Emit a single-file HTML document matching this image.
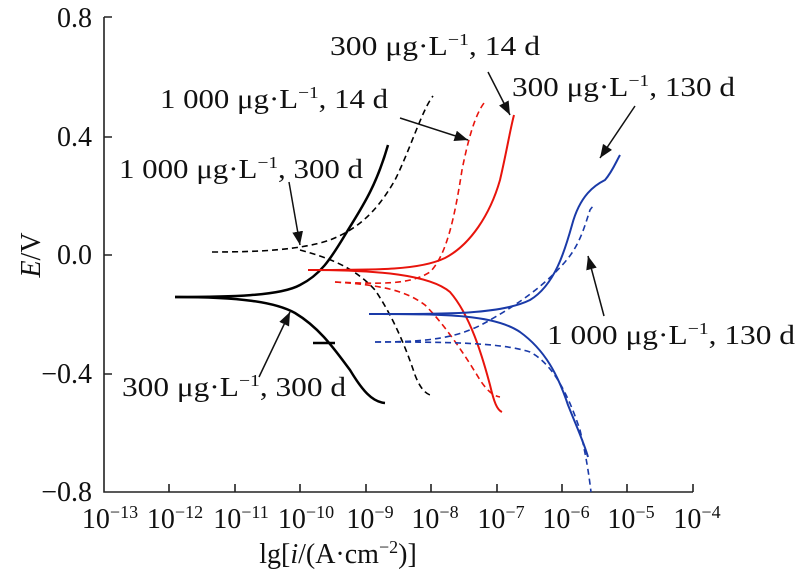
<!DOCTYPE html><html><head><style>body{margin:0;background:#fff}svg{display:block}text{font-family:"Liberation Serif",serif;fill:#111}</style></head><body>
<svg width="798" height="574" viewBox="0 0 798 574">
<defs><marker id="a" viewBox="0 0 10 10" refX="10" refY="5" markerWidth="9" markerHeight="9" orient="auto"><path d="M0,1 L10,5 L0,9 Z" fill="#111"/></marker></defs>
<g stroke="#222" stroke-width="1.6" fill="none">
<path d="M104,17 V492 H693"/>
<path d="M104,17 h8 M104,137 h8 M104,255 h8 M104,374 h8"/>
<path d="M169,492 v-8 M235,492 v-8 M300,492 v-8 M366,492 v-8 M431,492 v-8 M497,492 v-8 M562,492 v-8 M627,492 v-8 M693,492 v-8"/>
</g>
<g font-size="28" text-anchor="end"><text x="92" y="27">0.8</text><text x="92" y="146">0.4</text><text x="92" y="264">0.0</text><text x="92" y="383">−0.4</text><text x="92" y="501">−0.8</text></g>
<g font-size="28" text-anchor="middle">
<text x="110" y="528">10<tspan dy="-10" font-size="18">−13</tspan></text>
<text x="175" y="528">10<tspan dy="-10" font-size="18">−12</tspan></text>
<text x="241" y="528">10<tspan dy="-10" font-size="18">−11</tspan></text>
<text x="306" y="528">10<tspan dy="-10" font-size="18">−10</tspan></text>
<text x="370" y="528">10<tspan dy="-10" font-size="18">−9</tspan></text>
<text x="435" y="528">10<tspan dy="-10" font-size="18">−8</tspan></text>
<text x="501" y="528">10<tspan dy="-10" font-size="18">−7</tspan></text>
<text x="566" y="528">10<tspan dy="-10" font-size="18">−6</tspan></text>
<text x="631" y="528">10<tspan dy="-10" font-size="18">−5</tspan></text>
<text x="697" y="528">10<tspan dy="-10" font-size="18">−4</tspan></text>
<text x="338" y="563">lg[<tspan font-style="italic">i</tspan>/(A·cm<tspan dy="-10" font-size="18">−2</tspan><tspan dy="10">)]</tspan></text>
</g>
<text font-size="28" transform="translate(40,255) rotate(-90)" text-anchor="middle"><tspan font-style="italic">E</tspan>/V</text>
<g fill="none" stroke-width="2">
<path stroke="#000" stroke-width="2.5" d="M175,297 C230,297 280,296 300,285 C320,275 330,260 345,235 C360,210 375,190 388,145"/>
<path stroke="#000" stroke-width="2.5" d="M175,297 C240,297 275,302 295,313 C320,328 335,350 350,370 C362,390 372,402 385,403"/>
<path stroke="#000" stroke-width="2.5" d="M313,343 H335"/>
<path stroke="#000" stroke-width="1.6" stroke-dasharray="6,4" d="M212,252 C260,252 300,250 330,240 C355,230 375,215 395,180 C410,150 422,110 433,96"/>
<path stroke="#000" stroke-width="1.6" stroke-dasharray="6,4" d="M300,250 C330,258 355,268 375,290 C392,315 405,345 415,375 C420,388 425,393 430,395"/>
<path stroke="#e8140c" d="M308,270 C380,270 420,270 445,258 C470,245 490,215 500,180 C507,150 510,130 514,115"/>
<path stroke="#e8140c" d="M308,270 C380,270 430,275 450,292 C470,315 482,355 490,385 C494,402 497,410 502,412"/>
<path stroke="#e8140c" stroke-width="1.6" stroke-dasharray="6,4" d="M335,282 C380,284 410,285 430,272 C447,255 455,215 462,170 C468,140 475,115 484,103"/>
<path stroke="#e8140c" stroke-width="1.6" stroke-dasharray="6,4" d="M335,282 C380,285 405,290 425,305 C445,325 465,355 480,380 C488,392 494,396 500,397"/>
<path stroke="#1a3aa8" d="M369,314 C440,314 500,315 530,300 C555,285 565,250 572,225 C580,195 595,185 605,180 C612,172 616,162 620,155"/>
<path stroke="#1a3aa8" d="M369,314 C450,314 495,315 520,332 C545,350 558,375 568,405 C578,430 584,443 588,457"/>
<path stroke="#1a3aa8" stroke-width="1.6" stroke-dasharray="6,4" d="M375,342 C430,342 460,338 490,320 C520,303 545,285 565,262 C580,245 585,225 590,210 C592,207 594,205 595,205"/>
<path stroke="#1a3aa8" stroke-width="1.6" stroke-dasharray="6,4" d="M375,342 C440,342 500,342 530,352 C555,365 570,400 580,430 C586,455 589,475 591,492"/>
</g>
<g stroke="#111" stroke-width="1.5" fill="none" marker-end="url(#a)">
<path d="M400,118 L468,140"/><path d="M488,72 L510,115"/><path d="M635,106 L600,158"/>
<path d="M289,182 L300,245"/><path d="M604,316 L588,256"/><path d="M259,377 L290,312"/>
</g>
<g font-size="27">
<text x="330" y="55" textLength="210" lengthAdjust="spacingAndGlyphs">300 μg·L<tspan dy="-10" font-size="17">−1</tspan><tspan dy="10">, 14 d</tspan></text>
<text x="512" y="96" textLength="223" lengthAdjust="spacingAndGlyphs">300 μg·L<tspan dy="-10" font-size="17">−1</tspan><tspan dy="10">, 130 d</tspan></text>
<text x="160" y="108" textLength="228" lengthAdjust="spacingAndGlyphs">1 000 μg·L<tspan dy="-10" font-size="17">−1</tspan><tspan dy="10">, 14 d</tspan></text>
<text x="119" y="178" textLength="244" lengthAdjust="spacingAndGlyphs">1 000 μg·L<tspan dy="-10" font-size="17">−1</tspan><tspan dy="10">, 300 d</tspan></text>
<text x="547" y="344" textLength="248" lengthAdjust="spacingAndGlyphs">1 000 μg·L<tspan dy="-10" font-size="17">−1</tspan><tspan dy="10">, 130 d</tspan></text>
<text x="122" y="396" textLength="224" lengthAdjust="spacingAndGlyphs">300 μg·L<tspan dy="-10" font-size="17">−1</tspan><tspan dy="10">, 300 d</tspan></text>
</g>
</svg></body></html>
